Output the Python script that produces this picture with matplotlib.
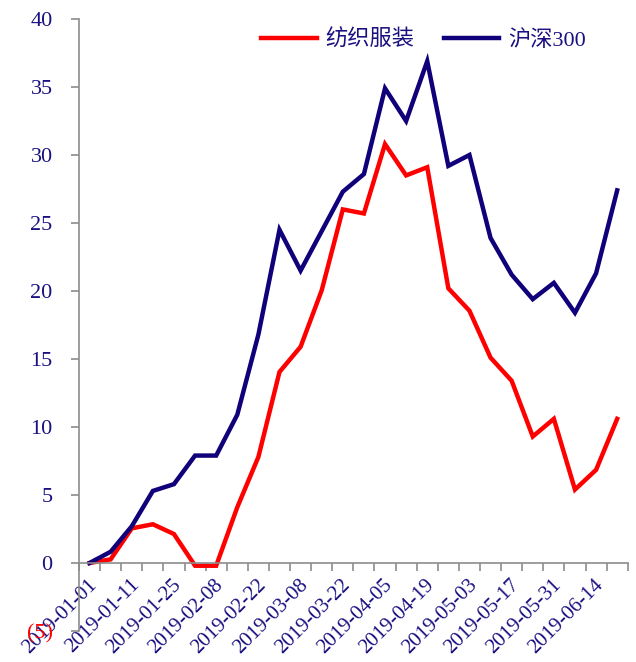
import numpy as np
import matplotlib
matplotlib.use("Agg")
import matplotlib.pyplot as plt
from matplotlib.ticker import FuncFormatter

plt.rcParams['font.family'] = ['Liberation Serif', 'Noto Sans CJK SC', 'DejaVu Sans']

dates = ["2019-01-01", "2019-01-04", "2019-01-11", "2019-01-18", "2019-01-25",
         "2019-02-01", "2019-02-08", "2019-02-15", "2019-02-22", "2019-03-01",
         "2019-03-08", "2019-03-15", "2019-03-22", "2019-03-29", "2019-04-05",
         "2019-04-12", "2019-04-19", "2019-04-26", "2019-05-03", "2019-05-10",
         "2019-05-17", "2019-05-24", "2019-05-31", "2019-06-07", "2019-06-14",
         "2019-06-21"]
textile = [0, 0.27, 2.55, 2.85, 2.13, -0.2, -0.2, 4.1, 7.8, 14.05, 15.9, 20.05,
           26.0, 25.7, 30.8, 28.5, 29.1, 20.2, 18.55, 15.1, 13.4, 9.3, 10.6,
           5.4, 6.85, 10.6]
hs300 = [0, 0.83, 2.7, 5.3, 5.8, 7.9, 7.9, 10.9, 16.8, 24.5, 21.5, 24.4,
         27.3, 28.6, 34.9, 32.5, 36.9, 29.2, 30.0, 23.9, 21.2, 19.4, 20.6,
         18.4, 21.3, 27.4]

navy = '#1a1080'
red = '#ff0000'
blue = '#10007a'
grey = '#8c8c8c'

fig = plt.figure(figsize=(6.36, 6.62), dpi=100)
ax = fig.add_axes([0.1242, 0.0468, 0.8628, 0.9245])

x = np.arange(len(dates))
ax.plot(x, textile, color=red, lw=3.2, label='纺织服装', solid_joinstyle='miter')
ax.plot(x, hs300, color=blue, lw=3.2, label='沪深300', solid_joinstyle='miter')

ax.set_xlim(-0.5, len(dates) - 0.5)
ax.set_ylim(-5, 40)
ax.set_yticks(np.arange(-5, 41, 5))
ax.yaxis.set_major_formatter(FuncFormatter(lambda v, p: "(%d)" % abs(v) if v < 0 else "%d" % v))

for s in ['top', 'right']:
    ax.spines[s].set_visible(False)
ax.spines['bottom'].set_position(('data', 0))
for s in ['left', 'bottom']:
    ax.spines[s].set_color(grey)
    ax.spines[s].set_linewidth(1.2)

# boundary ticks, labels at category centres
ax.set_xticks(np.arange(len(dates) + 1) - 0.5)
ax.set_xticklabels([])
ax.set_xticks(x[::2] - 0.1, minor=True)
ax.set_xticklabels(dates[::2], minor=True, rotation=45, ha='right', va='top',
                   rotation_mode='anchor', fontsize=15, color=navy)
ax.tick_params(axis='x', which='major', length=6, width=1.2, color=grey, direction='out')
ax.tick_params(axis='x', which='minor', length=0, pad=9)
ax.tick_params(axis='y', length=6, width=1.2, color=grey, direction='out', pad=13,
               labelsize=16, labelcolor=navy)
for lbl in ax.get_yticklabels():
    if lbl.get_text().startswith('('):
        lbl.set_color(red)

leg = ax.legend(loc='upper right', bbox_to_anchor=(0.96, 1.015), ncol=2, frameon=False,
                fontsize=16, labelcolor=navy, handlelength=2.5, handletextpad=0.4,
                columnspacing=1.3)

fig.savefig('out.png', dpi=100)
